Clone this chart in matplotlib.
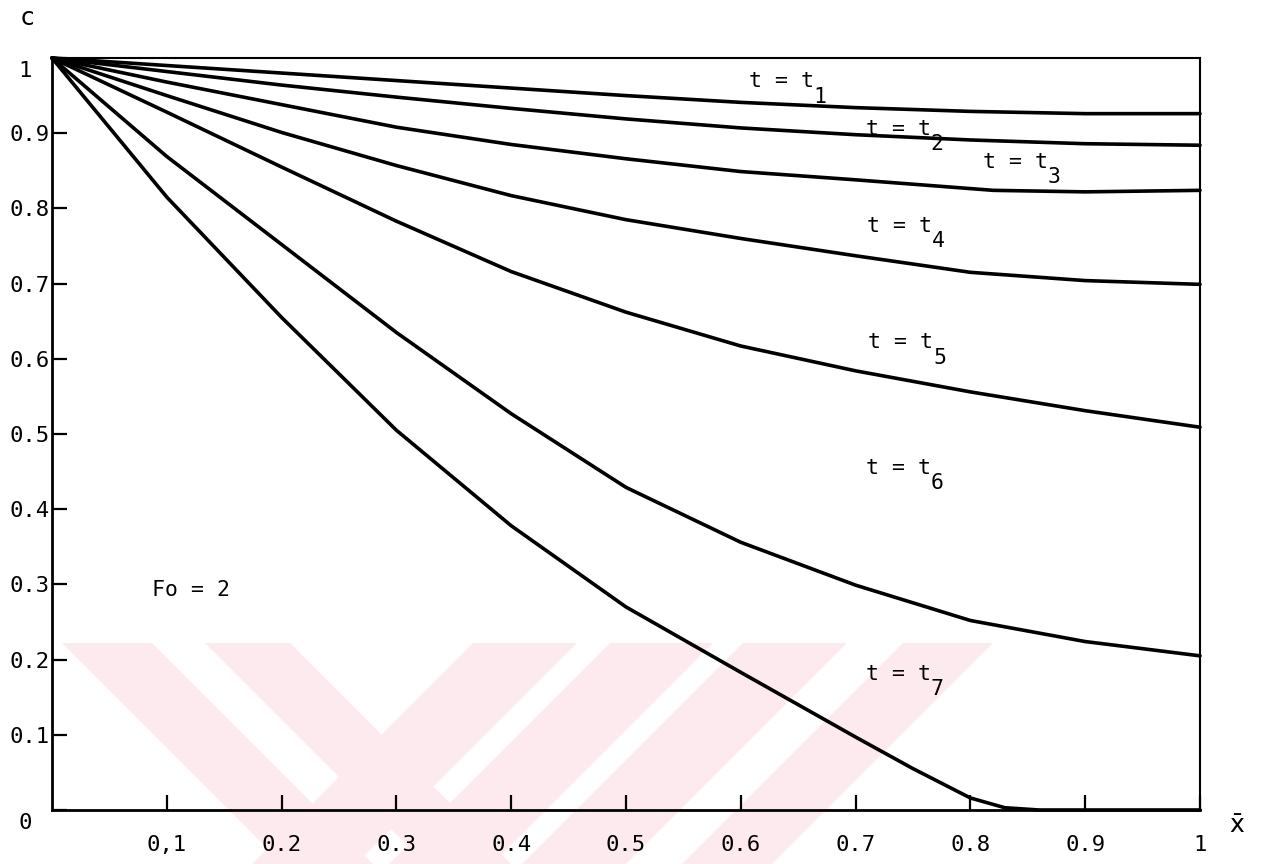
import numpy as np
import matplotlib
matplotlib.use("Agg")
from matplotlib import pyplot as plt
from matplotlib.patches import Polygon
from matplotlib.transforms import offset_copy, ScaledTranslation

# concentration profiles c(x) at successive times
x = [0.0, 0.1, 0.2, 0.3, 0.4, 0.5, 0.6, 0.7, 0.8, 0.9, 1.0]
c1 = [1.0, 0.990, 0.980, 0.970, 0.960, 0.950, 0.941, 0.934, 0.929, 0.926, 0.926]
c2 = [1.0, 0.982, 0.964, 0.948, 0.933, 0.919, 0.907, 0.898, 0.891, 0.886, 0.884]
x3 = [0.0, 0.1, 0.2, 0.3, 0.4, 0.5, 0.6, 0.7, 0.82, 0.9, 1.0]
c3 = [1.0, 0.968, 0.938, 0.908, 0.885, 0.866, 0.849, 0.838, 0.824, 0.822, 0.824]
c4 = [1.0, 0.950, 0.901, 0.857, 0.817, 0.785, 0.760, 0.737, 0.715, 0.704, 0.699]
c5 = [1.0, 0.928, 0.855, 0.783, 0.716, 0.662, 0.617, 0.584, 0.556, 0.531, 0.509]
c6 = [1.0, 0.869, 0.752, 0.635, 0.527, 0.429, 0.356, 0.299, 0.252, 0.224, 0.205]
x7 = [0.0, 0.1, 0.2, 0.3, 0.4, 0.5, 0.6, 0.7, 0.75, 0.8, 0.83, 0.86, 1.0]
c7 = [1.0, 0.815, 0.655, 0.505, 0.378, 0.270, 0.183, 0.097, 0.055, 0.016, 0.003, 0.0, 0.0]

curves = [(x, c1), (x, c2), (x3, c3), (x, c4), (x, c5), (x, c6), (x7, c7)]

# curve labels: subscript digit and where "t = t" sits
label_idx = ["1", "2", "3", "4", "5", "6", "7"]
label_x = [0.607, 0.709, 0.811, 0.710, 0.711, 0.709, 0.709]
label_y = [0.961, 0.898, 0.854, 0.769, 0.614, 0.447, 0.173]

xticks = [0.1, 0.2, 0.3, 0.4, 0.5, 0.6, 0.7, 0.8, 0.9, 1.0]
xticklabels = ["0,1", "0.2", "0.3", "0.4", "0.5", "0.6", "0.7", "0.8", "0.9", "1"]
yticks = [0.0, 0.1, 0.2, 0.3, 0.4, 0.5, 0.6, 0.7, 0.8, 0.9, 1.0]
yticklabels = ["0", "0.1", "0.2", "0.3", "0.4", "0.5", "0.6", "0.7", "0.8", "0.9", "1"]

font = "DejaVu Sans Mono"
W, H = 1264, 864

fig = plt.figure(figsize=(W / 100, H / 100), dpi=100)
ax = fig.add_axes([52 / W, 54 / H, 1148 / W, 752 / H])
ax.set_facecolor("none")

# faint pink watermark of the scan (diagonal bands)
pink = "#fdeaee"
band_top, band_bot = 643, 864
bands = [(62, 152, 1), (205, 290, 1), (473, 577, -1), (610, 713, -1),
         (743, 847, -1), (903, 993, -1)]
for a, b, d in bands:
    h = (band_bot - band_top) * d
    pts = [(a, band_top), (b, band_top), (b + h, band_bot), (a + h, band_bot)]
    pts = [(px / W, 1 - py / H) for px, py in pts]
    fig.patches.append(Polygon(pts, closed=True, transform=fig.transFigure,
                               facecolor=pink, edgecolor="none", zorder=-1))

for xs, ys in curves:
    ax.plot(xs, ys, color="black", lw=2.6, solid_joinstyle="round",
            solid_capstyle="round", clip_on=False)

ax.set_xlim(0, 1)
ax.set_ylim(0, 1)
ax.set_xticks(xticks)
ax.set_xticklabels(xticklabels, family=font, fontsize=16)
ax.set_yticks(yticks)
ax.set_yticklabels(yticklabels, family=font, fontsize=16)
ax.tick_params(axis="x", direction="in", length=11, width=1.6, pad=18)
ax.tick_params(axis="y", direction="in", length=11, width=1.6, pad=2)

# the corner labels "0" and "1" sit further left and a bit lower on the scan
ylabels = ax.get_yticklabels()
for lab in (ylabels[0], ylabels[-1]):
    shift = ScaledTranslation(-17 / 100, -11 / 100, fig.dpi_scale_trans)
    lab.set_transform(lab.get_transform() + shift)

for side in ["left", "bottom"]:
    ax.spines[side].set_linewidth(2.0)
for side in ["top", "right"]:
    ax.spines[side].set_linewidth(1.5)

for idx, lx, ly in zip(label_idx, label_x, label_y):
    ax.text(lx, ly, "t = t", family=font, fontsize=15.5, va="baseline", ha="left")
    sub = offset_copy(ax.transData, fig=fig, x=5 * 0.602 * 15.5, y=-11, units="points")
    ax.text(lx, ly, idx, family=font, fontsize=15.5, va="baseline", ha="left",
            transform=sub)

ax.text(0.087, 0.285, "Fo = 2", family=font, fontsize=15.5, va="baseline", ha="left")

fig.text(27 / W, 1 - 18 / H, "c", family=font, fontsize=18, ha="center", va="center")
fig.text(1237 / W, 1 - 825 / H, "x\u0304", family="DejaVu Sans", fontsize=18,
         ha="center", va="center")

fig.savefig("out.png", dpi=100)
